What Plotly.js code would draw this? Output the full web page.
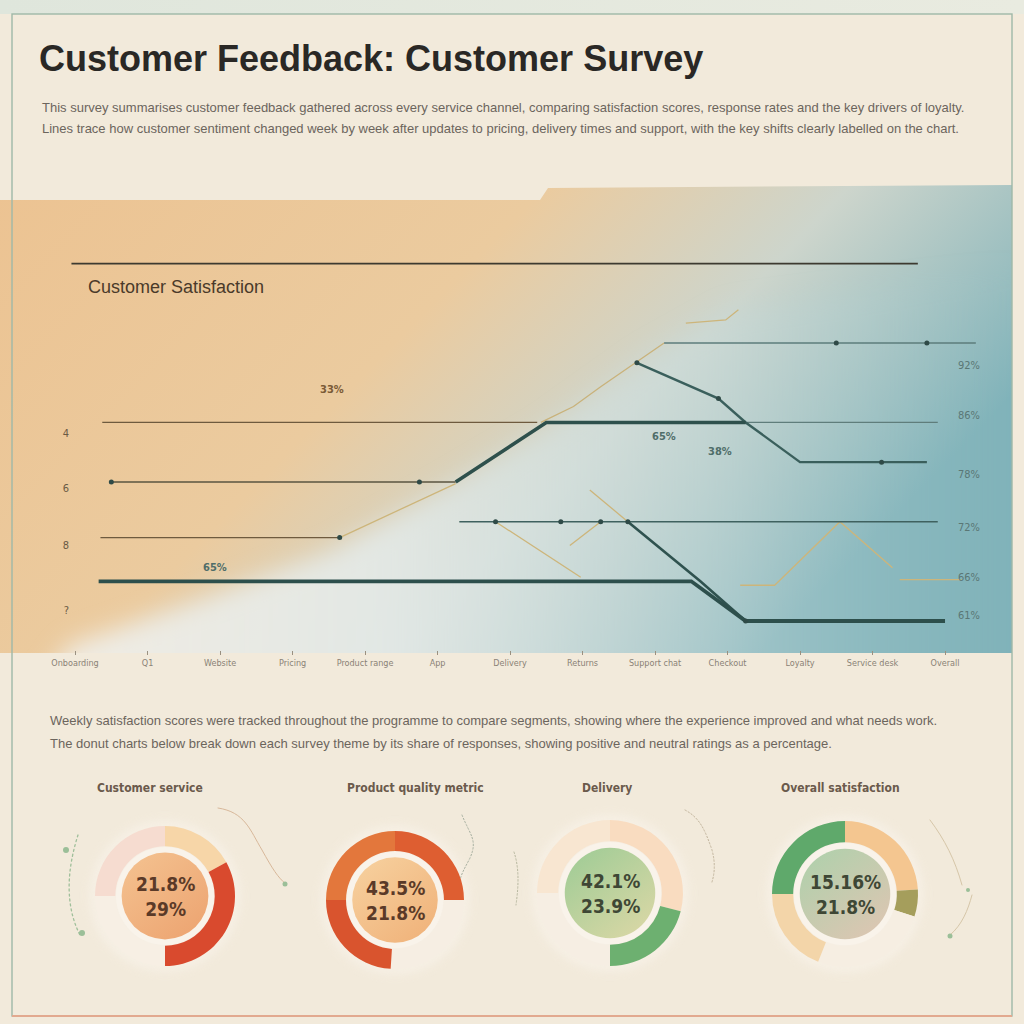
<!DOCTYPE html>
<html><head><meta charset="utf-8">
<script src="https://cdn.plot.ly/plotly-3.0.1.min.js"></script>
<style>html,body{margin:0;padding:0;background:#f2eadb;}#chart{width:1024px;height:1024px;}</style>
</head><body><div id="chart"></div>
<script>
// ---------- DATA ----------
const xTickWeeks = [0,4,8,12,16,20,24,28,32,36,40,44,48];
const xTickLabels = ["Onboarding","Q1","Website","Pricing","Product range","App","Delivery","Returns","Support chat","Checkout","Loyalty","Service desk","Overall"];
const yTickVals = [61.4, 69.6, 76.7, 83.7];
const yTickText = ["?","8","6","4"];

const ruleX = [-0.2, 46.5];           const ruleY = [105, 105];
const overallX = [1.3, 34, 37, 48];   const overallY = [65, 65, 60, 60];
const supportBaseX = [2, 21];         const supportBaseY = [77.5, 77.5];
const supportX = [21, 26, 37];        const supportY = [77.5, 85, 85];
const deliveryX = [31, 35.5, 37, 40, 47]; const deliveryY = [92.5, 88, 85, 80, 80];
const pricingX = [1.5, 25.5];         const pricingY = [85, 85];
const pricingLateX = [37, 47.6];      const pricingLateY = [85, 85];
const productTanX = [25.7, 27.5, 29, 31, 32.5]; const productTanY = [85, 87, 89.5, 92.7, 95];
const productX = [32.5, 49.7];        const productY = [95, 95];
const appX = [21.2, 47.6];            const appY = [72.5, 72.5];
const returnsX = [30.5, 34.5, 37];    const returnsY = [72.5, 65, 60];
const websiteX = [1.4, 14.6];         const websiteY = [70.5, 70.5];
const tanX = [14.6, 18.5, 21, null, 23.2, 27.9, null, 27.3, 29, null, 28.4, 30.5, null, 36.7, 38.6, 42.2, 45.1, null, 45.5, 48.9, null, 33.7, 35.9, 36.6];
const tanY = [70.5, 74.6, 77.3, null, 72.5, 65.5, null, 69.5, 72.5, null, 76.5, 72.5, null, 64.5, 64.5, 72.5, 66.7, null, 65.2, 65.2, null, 97.5, 97.9, 99.2];
const dotX = [2, 19, 14.6, 23.2, 26.8, 29, 30.5, 31, 35.5, 42, 47, 44.5, 37];
const dotY = [77.5, 77.5, 70.5, 72.5, 72.5, 72.5, 72.5, 92.5, 88, 95, 95, 80, 60];

const pointLabelX = [14.2, 32.5, 35.6, 7.7];
const pointLabelY = [89.1, 83.2, 81.3, 66.8];
const pointLabelText = ["33%", "65%", "38%", "65%"];
const rightLabelY = [92.2, 85.9, 78.4, 71.8, 65.5, 60.7];
const rightLabelText = ["92%", "86%", "78%", "72%", "66%", "61%"];

const donutTitles = ["Customer service", "Product quality metric", "Delivery", "Overall satisfaction"];
const donutValues = [
  [17, 33, 25, 25],
  [25, 26, 24, 25],
  [29, 21, 25, 25],
  [24, 6, 26, 19, 25]
];
const donutColors = [
  ["#f7d6a8", "#d94a2e", "#f7efe4", "#f6dcd0"],
  ["#de5e31", "#f6eee3", "#d9542e", "#e3773c"],
  ["#f9dcc0", "#6db070", "#f6eee3", "#f8e6d1"],
  ["#f4c690", "#a59e5c", "#f6eee2", "#f3d5a9", "#5fa96b"]
];
const donutTop = ["21.8%", "43.5%", "42.1%", "15.16%"];
const donutBottom = ["29%", "21.8%", "23.9%", "21.8%"];

// ---------- LAYOUT GEOMETRY ----------
const W = 1024, H = 1024;
const donutGeo = [ {cx:165, cy:896, r:70}, {cx:395, cy:900, r:69}, {cx:610, cy:893, r:73}, {cx:845, cy:894, r:73} ];
const discCols = [["#f4c391","#eda572"],["#f7d2a0","#f0b37b"],["#9ccb95","#d8d7a5"],["#acd1ab","#dcc6b2"]];

let discs = "", discDefs = "";
donutGeo.forEach((g,i)=>{
  discDefs += `<linearGradient id="d${i}" x1="0" y1="0" x2="0.8" y2="1"><stop offset="0" stop-color="${discCols[i][0]}"/><stop offset="1" stop-color="${discCols[i][1]}"/></linearGradient>`;
  discs += `<circle cx="${g.cx}" cy="${g.cy}" r="${g.r+6}" fill="#f8f2e8" opacity="0.7" filter="url(#soft)"/>`;
  discs += `<circle cx="${g.cx}" cy="${g.cy}" r="${g.r*0.7}" fill="#f9f3ea"/>`;
  discs += `<circle cx="${g.cx}" cy="${g.cy}" r="${g.r*0.62}" fill="url(#d${i})"/>`;
});

const bg = `<svg xmlns="http://www.w3.org/2000/svg" width="1024" height="1024" viewBox="0 0 1024 1024">
<defs>
<linearGradient id="band" x1="0" y1="0" x2="1" y2="0.45">
 <stop offset="0" stop-color="#ecc392"/>
 <stop offset="0.45" stop-color="#ebcb9f"/>
 <stop offset="0.7" stop-color="#cdd5cc"/>
 <stop offset="1" stop-color="#7fb2b9"/>
</linearGradient>
<linearGradient id="glow" x1="0" y1="0" x2="1" y2="0">
 <stop offset="0" stop-color="#f2efe8" stop-opacity="0.95"/>
 <stop offset="0.35" stop-color="#e4eae8" stop-opacity="0.9"/>
 <stop offset="0.7" stop-color="#c8dbdb" stop-opacity="0.45"/>
 <stop offset="1" stop-color="#9cc4c7" stop-opacity="0"/>
</linearGradient>
<linearGradient id="topstrip" x1="0" y1="0" x2="1" y2="0">
 <stop offset="0" stop-color="#dfe6dc"/><stop offset="1" stop-color="#e9ebe0"/>
</linearGradient>
${discDefs}
<filter id="blur" x="-10%" y="-10%" width="120%" height="120%"><feGaussianBlur stdDeviation="12"/></filter>
<filter id="soft" x="-20%" y="-20%" width="140%" height="140%"><feGaussianBlur stdDeviation="4"/></filter>
<clipPath id="bandClip"><path d="M0,200 L540,200 L548,188 L1012,185 L1012,653 L0,653 Z"/></clipPath>
</defs>
<rect width="1024" height="1024" fill="#f2eadb"/>
<rect x="0" y="0" width="1024" height="14" fill="url(#topstrip)"/>
<path d="M0,200 L540,200 L548,188 L1012,185 L1012,653 L0,653 Z" fill="url(#band)"/>
<g clip-path="url(#bandClip)">
 <path d="M30,700 L70,645 L200,600 L330,552 L440,492 L545,430 L645,358 L730,310 L1040,265 L1040,700 Z" fill="url(#glow)" filter="url(#blur)"/>
</g>
<rect x="12" y="14" width="1000" height="1002" fill="none" stroke="#9fb8a8" stroke-width="1.4"/>
<line x1="12" y1="1016" x2="1012" y2="1016" stroke="#e2a98f" stroke-width="2"/>
${discs}
<g fill="none" stroke-linecap="round">
 <path d="M78,835 C70,860 62,900 80,935" stroke="#9fbf9a" stroke-width="1.3" stroke-dasharray="2 3"/>
 <path d="M218,808 C245,812 250,830 262,850 C272,868 278,878 286,884" stroke="#d8b89a" stroke-width="1"/>
 <path d="M462,815 C470,835 478,840 470,858 C466,866 462,872 460,880" stroke="#a9b1a2" stroke-width="1" stroke-dasharray="1.5 2"/>
 <path d="M685,810 C700,818 705,830 712,850 C716,865 714,875 712,882" stroke="#c3b69e" stroke-width="1" stroke-dasharray="1.5 2"/>
 <path d="M514,852 C520,870 518,890 516,905" stroke="#b8b8a0" stroke-width="1" stroke-dasharray="1.5 2"/>
 <path d="M930,820 C945,840 955,860 962,885" stroke="#d6c6a8" stroke-width="1"/>
 <path d="M972,895 C968,910 962,925 950,935" stroke="#d6c6a8" stroke-width="1"/>
</g>
<g fill="#9bbf98"><circle cx="66" cy="850" r="3"/><circle cx="82" cy="933" r="3"/><circle cx="285" cy="884" r="2.5"/><circle cx="968" cy="890" r="2"/><circle cx="950" cy="936" r="2.5"/></g>
</svg>`;
const bgURI = "data:image/svg+xml;charset=utf-8," + encodeURIComponent(bg);

const FONT = "Liberation Sans, Arial, sans-serif";
const COND = "DejaVu Sans Condensed, Liberation Sans, sans-serif";

// ---------- TRACES ----------
function line(x, y, color, width, extra) {
  return Object.assign({type:"scatter", mode:"lines", x:x, y:y, xaxis:"x", yaxis:"y",
    line:{color:color, width:width}, hoverinfo:"skip", showlegend:false, connectgaps:false}, extra||{});
}
const traces = [
  line(ruleX, ruleY, "#3d3a30", 1.6),
  line(pricingX, pricingY, "#6e5a3e", 1.3),
  line(pricingLateX, pricingLateY, "#5f7d7b", 1.3),
  line(websiteX, websiteY, "#6e5a3e", 1.3),
  line(supportBaseX, supportBaseY, "#5a5440", 1.6),
  line(tanX, tanY, "#cdb57a", 1.3),
  line(productTanX, productTanY, "#c9b27a", 1.3),
  line(productX, productY, "#5d7c7b", 1.3),
  line(appX, appY, "#3f615f", 1.5),
  line(deliveryX, deliveryY, "#3a5f5c", 2.4),
  line(returnsX, returnsY, "#2f524f", 2.6),
  line(supportX, supportY, "#2e504c", 3.6),
  line(overallX, overallY, "#2d4f4c", 3.8),
  {type:"scatter", mode:"markers", x:dotX, y:dotY, marker:{size:5, color:"#2f4a47"}, hoverinfo:"skip", showlegend:false}
];

donutGeo.forEach((g,i)=>{
  traces.push({
    type:"pie", values:donutValues[i], marker:{colors:donutColors[i], line:{width:0}},
    hole:0.71, sort:false, direction:"clockwise", rotation:0, textinfo:"none", hoverinfo:"none", showlegend:false,
    domain:{x:[(g.cx-g.r)/W, (g.cx+g.r)/W], y:[1-(g.cy+g.r)/H, 1-(g.cy-g.r)/H]}
  });
});

// ---------- ANNOTATIONS ----------
const ann = [];
function pAnn(text, px, py, size, color, opts) {
  ann.push(Object.assign({xref:"paper", yref:"paper", x:px/W, y:1-py/H, text:text, showarrow:false,
    xanchor:"left", yanchor:"middle", font:{family:FONT, size:size, color:color}}, opts||{}));
}
pAnn("<b>Customer Feedback: Customer Survey</b>", 37, 58, 36, "#2a2825");
pAnn("This survey summarises customer feedback gathered across every service channel, comparing satisfaction scores, response rates and the key drivers of loyalty.", 40, 107, 13, "#6c655d");
pAnn("Lines trace how customer sentiment changed week by week after updates to pricing, delivery times and support, with the key shifts clearly labelled on the chart.", 40, 128, 13, "#6c655d");
pAnn("Customer Satisfaction", 86, 287, 18, "#4a3a2a");
pAnn("Weekly satisfaction scores were tracked throughout the programme to compare segments, showing where the experience improved and what needs work.", 48, 720, 13, "#6c655d");
pAnn("The donut charts below break down each survey theme by its share of responses, showing positive and neutral ratings as a percentage.", 48, 743, 13, "#6c655d");

const titleX = [150, 415, 607, 840];
donutGeo.forEach((g,i)=>{
  pAnn("<b>"+donutTitles[i]+"</b>", titleX[i], 788, 12, "#6b5a4c", {xanchor:"center", font:{family:COND, size:12, color:"#6b5a4c"}});
  const c = i < 2 ? "#5b3a28" : "#3e4735";
  pAnn("<b>"+donutTop[i]+"<br>"+donutBottom[i]+"</b>", g.cx, g.cy, 19, c, {xanchor:"center", font:{family:COND, size:19, color:c}});
});

pointLabelText.forEach((t,i)=>{
  ann.push({xref:"x", yref:"y", x:pointLabelX[i], y:pointLabelY[i], text:"<b>"+t+"</b>", showarrow:false,
    font:{family:COND, size:11, color: i===0 ? "#7a5a36" : "#4f6d69"}});
});
rightLabelText.forEach((t,i)=>{
  ann.push({xref:"x", yref:"y", x:49.3, y:rightLabelY[i], text:t, showarrow:false,
    font:{family:COND, size:11, color:"#5a7775"}});
});

const layout = {
  width:W, height:H, margin:{l:0, r:0, t:0, b:0},
  paper_bgcolor:"#f2eadb", plot_bgcolor:"rgba(0,0,0,0)",
  showlegend:false,
  images:[{source:bgURI, xref:"paper", yref:"paper", x:0, y:1, sizex:1, sizey:1, sizing:"stretch", xanchor:"left", yanchor:"top", layer:"below"}],
  xaxis:{domain:[70/W, 980/W], range:[-0.28, 49.93], tickmode:"array", tickvals:xTickWeeks, ticktext:xTickLabels,
    tickfont:{family:COND, size:9, color:"#8a8276"}, ticks:"outside", ticklen:4, tickcolor:"#9a9080",
    showgrid:false, zeroline:false, showline:false, fixedrange:true},
  yaxis:{domain:[1-650/H, 1-255/H], range:[56.35, 106.08], tickmode:"array", tickvals:yTickVals, ticktext:yTickText,
    tickfont:{family:COND, size:11, color:"#6a5a44"}, ticks:"", showgrid:false, zeroline:false, showline:false, fixedrange:true},
  annotations:ann
};
Plotly.newPlot("chart", traces, layout, {staticPlot:true, displayModeBar:false});
</script></body></html>
